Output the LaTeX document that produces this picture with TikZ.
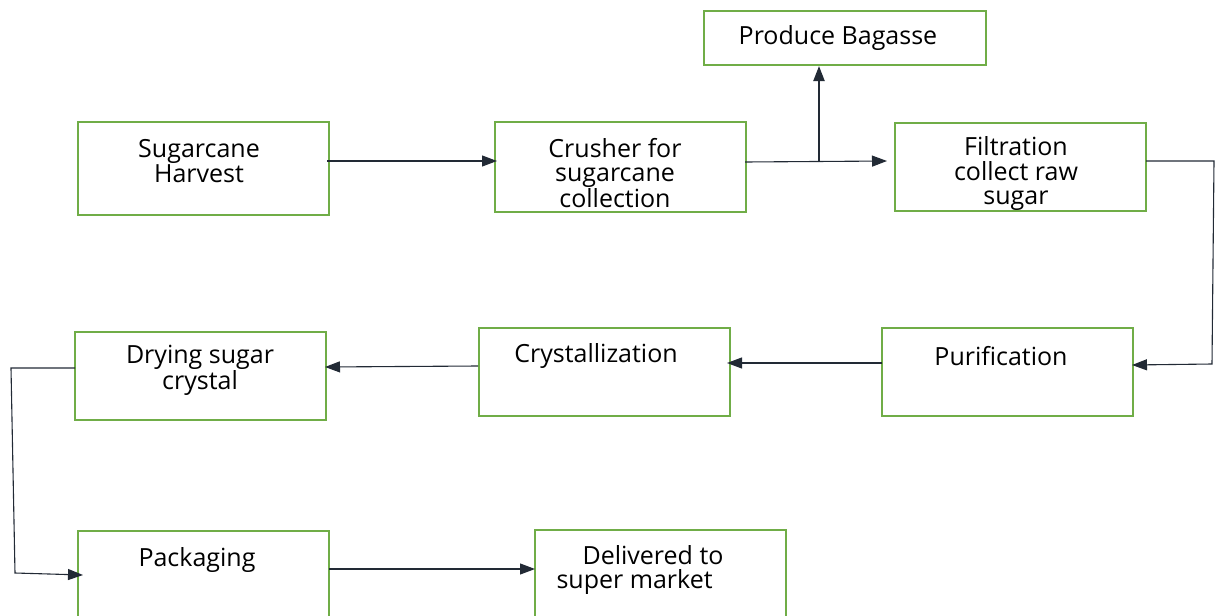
\documentclass[tikz,border=0pt]{standalone}
\usepackage{fontspec}
\setmainfont{Open Sans}
\usetikzlibrary{arrows.meta}
\definecolor{boxgreen}{HTML}{70AD47}
\definecolor{linedark}{HTML}{222A35}
\tikzset{
  box/.style={draw=boxgreen, line width=2.2pt, inner sep=0pt},
  lbl/.style={align=center, inner sep=0pt, font=\fontsize{25}{24.5}\selectfont, text=black},
  conn/.style={draw=linedark, line width=1.1pt, -{Triangle[length=15pt,width=11pt]}},
}
\begin{document}
\begin{tikzpicture}[x=1pt,y=-1pt]
\useasboundingbox (0,0) rectangle (1216,616);
% boxes
\node[box, minimum width=282pt, minimum height=54pt] (bag) at (845,38) {};
\node[box, minimum width=251pt, minimum height=93pt] (harv) at (203.5,168.5) {};
\node[box, minimum width=251pt, minimum height=90pt] (crush) at (620.5,167) {};
\node[box, minimum width=251pt, minimum height=88pt] (filt) at (1020.5,167) {};
\node[box, minimum width=251pt, minimum height=88pt] (puri) at (1007.5,372) {};
\node[box, minimum width=251pt, minimum height=88pt] (cryst) at (604.5,372) {};
\node[box, minimum width=251pt, minimum height=88pt] (dry) at (200.5,376) {};
\node[box, minimum width=251pt, minimum height=100pt] (pack) at (203.5,581) {};
\node[box, minimum width=251pt, minimum height=100pt] (deliv) at (660.5,580) {};
% labels
\node[lbl] (tbag) at (838,38) {Produce Bagasse};
\node[lbl] (tharv) at (199,161) {Sugarcane\\Harvest};
\node[lbl] (tcrush) at (615,173) {Crusher for\\sugarcane\\collection};
\node[lbl] (tfilt) at (1016,174) {Filtration\\collect raw\\sugar};
\node[lbl] (tpuri) at (1001,356) {Purification};
\node[lbl] (tcryst) at (596,356) {Crystallization};
\node[lbl] (tdry) at (200,370) {Drying sugar\\crystal};
\node[lbl] (tpack) at (197,560) {Packaging};
\node[lbl, align=left] (tdel) at (640,570) {\hspace*{26pt}Delivered to\\super market};
% connector coordinates
\coordinate (hs) at (327,161);
\coordinate (ce) at (497,161);
\coordinate (cs) at (745,162);
\coordinate (fe) at (887,161);
\coordinate (br) at (819,162);
\coordinate (be) at (819,66);
\coordinate (fr) at (1146,161);
\coordinate (fr1) at (1214,161);
\coordinate (fr2) at (1212,364);
\coordinate (pe) at (1132,365);
\coordinate (ps) at (882,363);
\coordinate (ce2) at (727,363);
\coordinate (cs2) at (478,366);
\coordinate (de) at (325,367);
\coordinate (ds) at (75,368);
\coordinate (dl1) at (11,368);
\coordinate (dl2) at (15,573);
\coordinate (pke) at (83,575);
\coordinate (pks) at (329,569);
\coordinate (dve) at (535,569);
% connectors
\draw[conn] (hs) -- (ce);
\draw[conn] (cs) -- (fe);
\draw[conn, line width=2.2pt] (br) -- (be);
\draw[conn] (fr) -- (fr1) -- (fr2) -- (pe);
\draw[conn] (ps) -- (ce2);
\draw[conn] (cs2) -- (de);
\draw[conn] (ds) -- (dl1) -- (dl2) -- (pke);
\draw[conn] (pks) -- (dve);
\end{tikzpicture}
\end{document}
